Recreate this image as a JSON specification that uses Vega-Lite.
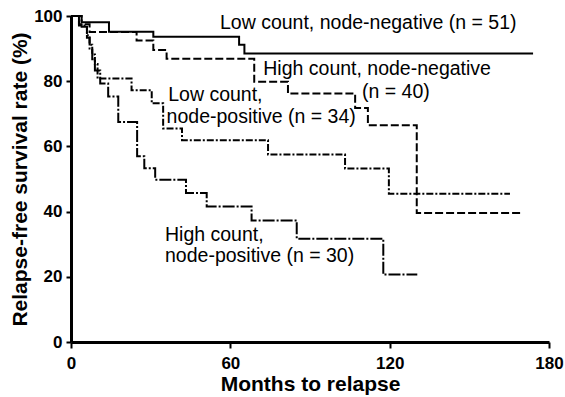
{
  "$schema": "https://vega.github.io/schema/vega-lite/v6.json",
  "width": 478,
  "height": 326,
  "autosize": {"type": "none"},
  "padding": {"left": 71, "top": 16, "right": 16, "bottom": 55},
  "background": "white",
  "config": {"view": {"stroke": null}, "font": "Liberation Sans"},
  "datasets": {
    "curves": [
      {"group": "Low count, node-negative", "month": 0, "survival": 100},
      {"group": "Low count, node-negative", "month": 4, "survival": 98.1},
      {"group": "Low count, node-negative", "month": 14.3, "survival": 95.2},
      {"group": "Low count, node-negative", "month": 31, "survival": 93.6},
      {"group": "Low count, node-negative", "month": 63.3, "survival": 91.2},
      {"group": "Low count, node-negative", "month": 65.3, "survival": 88.5},
      {"group": "Low count, node-negative", "month": 174, "survival": 88.5},

      {"group": "High count, node-negative", "month": 0, "survival": 100},
      {"group": "High count, node-negative", "month": 3, "survival": 97.5},
      {"group": "High count, node-negative", "month": 7, "survival": 95.1},
      {"group": "High count, node-negative", "month": 24.7, "survival": 92.5},
      {"group": "High count, node-negative", "month": 31, "survival": 89.6},
      {"group": "High count, node-negative", "month": 36, "survival": 86.9},
      {"group": "High count, node-negative", "month": 69, "survival": 79.8},
      {"group": "High count, node-negative", "month": 81.7, "survival": 76.2},
      {"group": "High count, node-negative", "month": 107, "survival": 71.8},
      {"group": "High count, node-negative", "month": 111.8, "survival": 66.5},
      {"group": "High count, node-negative", "month": 130.2, "survival": 39.6},
      {"group": "High count, node-negative", "month": 169.7, "survival": 39.6},

      {"group": "Low count, node-positive", "month": 0, "survival": 100},
      {"group": "Low count, node-positive", "month": 3, "survival": 97.1},
      {"group": "Low count, node-positive", "month": 6, "survival": 94.1},
      {"group": "Low count, node-positive", "month": 7, "survival": 91.2},
      {"group": "Low count, node-positive", "month": 8, "survival": 88.2},
      {"group": "Low count, node-positive", "month": 9, "survival": 85.3},
      {"group": "Low count, node-positive", "month": 10, "survival": 80.8},
      {"group": "Low count, node-positive", "month": 22.8, "survival": 77.2},
      {"group": "Low count, node-positive", "month": 30.4, "survival": 73.2},
      {"group": "Low count, node-positive", "month": 34.7, "survival": 65.5},
      {"group": "Low count, node-positive", "month": 41.8, "survival": 61.9},
      {"group": "Low count, node-positive", "month": 74.2, "survival": 57.5},
      {"group": "Low count, node-positive", "month": 103.2, "survival": 53.2},
      {"group": "Low count, node-positive", "month": 119.7, "survival": 45.5},
      {"group": "Low count, node-positive", "month": 165.3, "survival": 45.5},

      {"group": "High count, node-positive", "month": 0, "survival": 100},
      {"group": "High count, node-positive", "month": 4, "survival": 96.7},
      {"group": "High count, node-positive", "month": 6, "survival": 93.3},
      {"group": "High count, node-positive", "month": 7, "survival": 90},
      {"group": "High count, node-positive", "month": 8, "survival": 86.7},
      {"group": "High count, node-positive", "month": 9, "survival": 83.3},
      {"group": "High count, node-positive", "month": 11, "survival": 79.3},
      {"group": "High count, node-positive", "month": 14, "survival": 75.3},
      {"group": "High count, node-positive", "month": 17.8, "survival": 67.5},
      {"group": "High count, node-positive", "month": 24.9, "survival": 57},
      {"group": "High count, node-positive", "month": 27.6, "survival": 53.3},
      {"group": "High count, node-positive", "month": 31.7, "survival": 49.8},
      {"group": "High count, node-positive", "month": 43.3, "survival": 45.7},
      {"group": "High count, node-positive", "month": 51.1, "survival": 41.6},
      {"group": "High count, node-positive", "month": 68, "survival": 37.3},
      {"group": "High count, node-positive", "month": 85, "survival": 31.7},
      {"group": "High count, node-positive", "month": 117.6, "survival": 20.7},
      {"group": "High count, node-positive", "month": 130.4, "survival": 20.7}
    ],
    "labels": [
      {"text": "Low count, node-negative (n = 51)", "month": 56.1, "survival": 95.9},
      {"text": "High count, node-negative", "month": 72.4, "survival": 81.9},
      {"text": "(n = 40)", "month": 109.6, "survival": 74.75},
      {"text": "Low count,", "month": 36.6, "survival": 73.8},
      {"text": "node-positive (n = 34)", "month": 36.0, "survival": 67.3},
      {"text": "High count,", "month": 35.4, "survival": 31.0},
      {"text": "node-positive (n = 30)", "month": 35.4, "survival": 24.4}
    ]
  },
  "layer": [
    {
      "data": {"name": "curves"},
      "mark": {"type": "line", "interpolate": "step-after", "strokeWidth": 2, "color": "black"},
      "encoding": {
        "x": {
          "field": "month", "type": "quantitative",
          "scale": {"domain": [0, 180], "nice": false, "zero": false},
          "axis": {
            "values": [0, 60, 120, 180], "title": "Months to relapse", "grid": false,
            "domainWidth": 3, "domainColor": "black", "tickColor": "black", "tickWidth": 2, "tickSize": 6,
            "labelFont": "Liberation Sans", "labelFontSize": 17, "labelFontWeight": "bold", "labelColor": "black",
            "labelPadding": 7, "labelFlush": false, "labelOverlap": false, "labelBound": false,
            "titleFont": "Liberation Sans", "titleFontSize": 21, "titleFontWeight": "bold", "titleColor": "black",
            "titleY": 48, "titleBaseline": "alphabetic"
          }
        },
        "y": {
          "field": "survival", "type": "quantitative",
          "scale": {"domain": [0, 100], "nice": false},
          "axis": {
            "values": [0, 10, 20, 30, 40, 50, 60, 70, 80, 90, 100],
            "labelExpr": "datum.value % 20 === 0 ? datum.label : ''",
            "title": "Relapse-free survival rate (%)", "grid": false,
            "domainWidth": 3, "domainColor": "black", "tickColor": "black", "tickWidth": 2, "tickSize": 5,
            "labelFont": "Liberation Sans", "labelFontSize": 17, "labelFontWeight": "bold", "labelColor": "black",
            "labelPadding": 4, "labelFlush": false, "labelOverlap": false, "labelBound": false,
            "titleFont": "Liberation Sans", "titleFontSize": 21, "titleFontWeight": "bold", "titleColor": "black",
            "titleX": -51, "titleY": 163, "titleAlign": "center", "titleBaseline": "middle", "titleAngle": 270
          }
        },
        "detail": {"field": "group"},
        "strokeDash": {
          "field": "group", "type": "nominal",
          "scale": {
            "domain": ["Low count, node-negative", "High count, node-negative", "Low count, node-positive", "High count, node-positive"],
            "range": [[1, 0], [8, 3], [7, 2, 2, 2], [12, 2, 2, 2]]
          },
          "legend": null
        }
      }
    },
    {
      "data": {"name": "labels"},
      "mark": {"type": "text", "align": "left", "baseline": "alphabetic", "fontSize": 19.5, "font": "Liberation Sans", "color": "black"},
      "encoding": {
        "x": {"field": "month", "type": "quantitative"},
        "y": {"field": "survival", "type": "quantitative"},
        "text": {"field": "text"}
      }
    }
  ]
}
